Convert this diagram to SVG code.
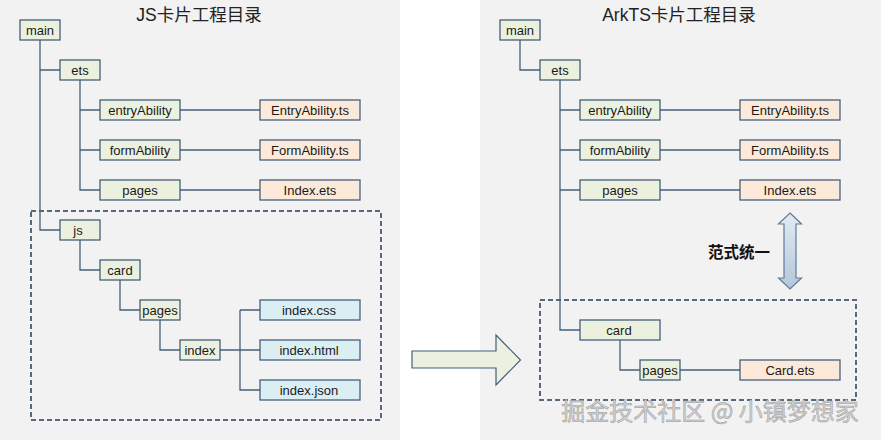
<svg xmlns="http://www.w3.org/2000/svg" width="881" height="441" viewBox="0 0 881 441">
<defs>
<style>
.bg{fill:#f2f2f2}
.n rect{stroke:#44607a;stroke-width:1.3}
.g rect{fill:#ebf1de}
.o rect{fill:#fde9d9}
.b rect{fill:#dbeef4}
.n text{font-family:"Liberation Sans",Arial,sans-serif;font-size:13px;fill:#1a1a1a;text-anchor:middle}
.c path{fill:none;stroke:#44607a;stroke-width:1.3}
.dash{fill:none;stroke:#57687a;stroke-width:2;stroke-dasharray:5,3}
.title{font-family:"Liberation Sans","Noto Sans CJK SC",sans-serif;font-size:17.5px;fill:#222;text-anchor:middle}
</style>
<linearGradient id="dg" x1="0" y1="0" x2="0" y2="1">
<stop offset="0" stop-color="#e3ebf4"/>
<stop offset="1" stop-color="#b3c6da"/>
</linearGradient>
</defs>
<rect width="881" height="441" fill="#ffffff"/>
<rect class="bg" x="0" y="0" width="400" height="440"/>
<rect class="bg" x="480" y="0" width="401" height="440"/>

<text class="title" x="199" y="21">JS卡片工程目录</text>
<text class="title" x="679" y="21">ArkTS卡片工程目录</text>

<rect class="dash" x="31" y="211" width="350" height="209"/>
<rect class="dash" x="540" y="300" width="316" height="100"/>

<g id="connectors" class="c">
<path d="M40 40V230H60M40 70H60"/>
<path d="M80 80V190H100M80 110H100M80 150H100"/>
<path d="M180 110H260M180 150H260M180 190H260"/>
<path d="M80 240V270H100"/>
<path d="M120 280V310H140"/>
<path d="M160 320V350H180"/>
<path d="M220 350H260M240 310V390H260M240 310H260"/>
<path d="M520 40V70H540"/>
<path d="M560 80V330H580M560 110H580M560 150H580M560 190H580"/>
<path d="M660 110H740M660 150H740M660 190H740"/>
<path d="M620 340V370H640M680 370H740"/>
</g>

<g id="l-main" class="n g"><rect x="20" y="20" width="40" height="20"/><text x="40" y="35">main</text></g>
<g id="l-ets" class="n g"><rect x="60" y="60" width="40" height="20"/><text x="80" y="75">ets</text></g>
<g id="l-entryAbility" class="n g"><rect x="100" y="100" width="80" height="20"/><text x="140" y="115">entryAbility</text></g>
<g id="l-formAbility" class="n g"><rect x="100" y="140" width="80" height="20"/><text x="140" y="155">formAbility</text></g>
<g id="l-pages" class="n g"><rect x="100" y="180" width="80" height="20"/><text x="140" y="195">pages</text></g>
<g id="l-EntryAbility-ts" class="n o"><rect x="260" y="100" width="100" height="20"/><text x="310" y="115">EntryAbility.ts</text></g>
<g id="l-FormAbility-ts" class="n o"><rect x="260" y="140" width="100" height="20"/><text x="310" y="155">FormAbility.ts</text></g>
<g id="l-Index-ets" class="n o"><rect x="260" y="180" width="100" height="20"/><text x="310" y="195">Index.ets</text></g>
<g id="l-js" class="n g"><rect x="60" y="220" width="40" height="20"/><text x="78" y="235">js</text></g>
<g id="l-card" class="n g"><rect x="100" y="260" width="40" height="20"/><text x="120" y="275">card</text></g>
<g id="l-pages2" class="n g"><rect x="140" y="300" width="40" height="20"/><text x="160" y="315">pages</text></g>
<g id="l-index" class="n g"><rect x="180" y="340" width="40" height="20"/><text x="200" y="355">index</text></g>
<g id="l-index-css" class="n b"><rect x="260" y="300" width="100" height="20"/><text x="309" y="315">index.css</text></g>
<g id="l-index-html" class="n b"><rect x="260" y="340" width="100" height="20"/><text x="309" y="355">index.html</text></g>
<g id="l-index-json" class="n b"><rect x="260" y="380" width="100" height="20"/><text x="309" y="395">index.json</text></g>

<g id="r-main" class="n g"><rect x="500" y="20" width="40" height="20"/><text x="520" y="35">main</text></g>
<g id="r-ets" class="n g"><rect x="540" y="60" width="40" height="20"/><text x="560" y="75">ets</text></g>
<g id="r-entryAbility" class="n g"><rect x="580" y="100" width="80" height="20"/><text x="620" y="115">entryAbility</text></g>
<g id="r-formAbility" class="n g"><rect x="580" y="140" width="80" height="20"/><text x="620" y="155">formAbility</text></g>
<g id="r-pages" class="n g"><rect x="580" y="180" width="80" height="20"/><text x="620" y="195">pages</text></g>
<g id="r-EntryAbility-ts" class="n o"><rect x="740" y="100" width="100" height="20"/><text x="790" y="115">EntryAbility.ts</text></g>
<g id="r-FormAbility-ts" class="n o"><rect x="740" y="140" width="100" height="20"/><text x="790" y="155">FormAbility.ts</text></g>
<g id="r-Index-ets" class="n o"><rect x="740" y="180" width="100" height="20"/><text x="790" y="195">Index.ets</text></g>
<g id="r-card" class="n g"><rect x="580" y="320" width="80" height="20"/><text x="619" y="335">card</text></g>
<g id="r-pages2" class="n g"><rect x="640" y="360" width="40" height="20"/><text x="660" y="375">pages</text></g>
<g id="r-Card-ets" class="n o"><rect x="740" y="360" width="100" height="20"/><text x="790" y="375">Card.ets</text></g>

<g id="big-arrow">
<path d="M412 351H496V335L520.5 360L496 385V368H412Z" fill="#ebf1de" stroke="#44607a" stroke-width="1.2"/>
</g>

<g id="double-arrow">
<path d="M790 213L801.5 224H796V278H801.5L790 289L778.5 278H784V224H778.5Z" fill="url(#dg)" stroke="#5f7c96" stroke-width="1.2"/>
</g>
<text x="739" y="258" font-family="'Noto Sans CJK SC',sans-serif" font-size="15.5" font-weight="bold" fill="#111" text-anchor="middle">范式统一</text>

<text x="710" y="420" font-family="'Noto Sans CJK SC',sans-serif" font-size="24" fill="#d2d2d2" stroke="#9a9a9a" stroke-width="0.5" text-anchor="middle">掘金技术社区 @ 小镇梦想家</text>
</svg>
